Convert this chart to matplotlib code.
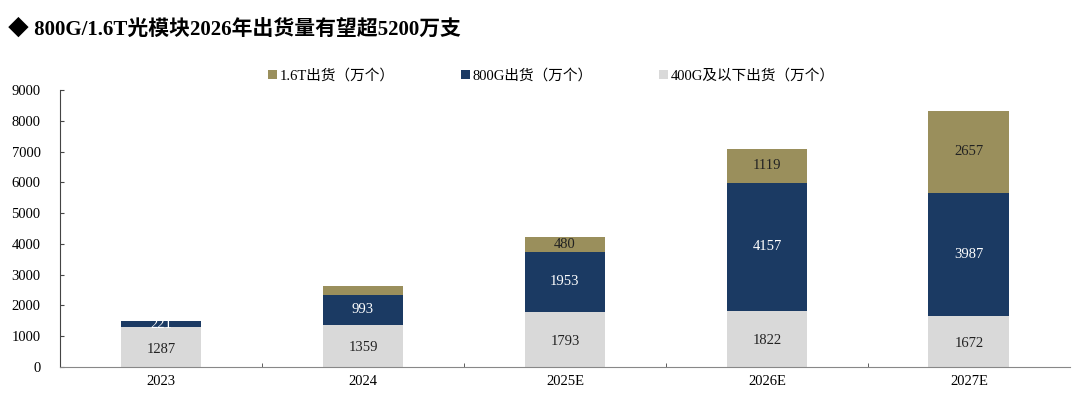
import numpy as np
import matplotlib.pyplot as plt
from matplotlib.ticker import FixedLocator

plt.rcParams['font.family'] = ['Liberation Serif', 'Noto Sans CJK SC']

years = ['2023', '2024', '2025E', '2026E', '2027E']
low = [1287, 1359, 1793, 1822, 1672]
g800 = [221, 993, 1953, 4157, 3987]
t16 = [0, 280, 480, 1119, 2657]
t16_labels = ['', '', '480', '1119', '2657']

c_low = '#d9d9d9'
c_800 = '#1b3a63'
c_16 = '#9a8f5c'

fig = plt.figure(figsize=(10.8, 3.93), dpi=100)
ax = fig.add_axes([0.0556, 0.066, 0.935, 0.705])

x = np.arange(len(years))
w = 0.4
b1 = ax.bar(x, low, w, color=c_low, label='400G及以下出货（万个）')
b2 = ax.bar(x, g800, w, bottom=low, color=c_800, label='800G出货（万个）')
bot3 = [a + b for a, b in zip(low, g800)]
b3 = ax.bar(x, t16, w, bottom=bot3, color=c_16, label='1.6T出货（万个）')

for i in range(len(years)):
    ax.text(x[i], low[i] / 2 - 60, str(low[i]), ha='center', va='center',
            fontsize=10.5, color='#222222')
    ax.text(x[i], low[i] + g800[i] / 2, str(g800[i]), ha='center', va='center',
            fontsize=10.5, color='white')
    if t16_labels[i]:
        ax.text(x[i], bot3[i] + t16[i] / 2, t16_labels[i], ha='center', va='center',
                fontsize=10.5, color='#222222')

ax.set_xlim(-0.5, len(years) - 0.5)
ax.set_ylim(0, 9000)
ax.set_yticks(range(0, 9001, 1000))
ax.set_xticks(x)
ax.set_xticklabels(years)
ax.xaxis.set_minor_locator(FixedLocator(np.arange(0.5, len(years) - 0.5, 1)))
ax.tick_params(axis='x', which='major', length=0, labelsize=10.5, pad=6)
ax.tick_params(axis='x', which='minor', length=3, direction='in', color='#444444')
ax.tick_params(axis='y', length=3, direction='in', labelsize=10.5, pad=14, color='#444444')
for s in ['top', 'right']:
    ax.spines[s].set_visible(False)
ax.spines['left'].set_color('#444444')
ax.spines['bottom'].set_color('#888888')

handles = [b3, b2, b1]
ax.legend(handles, [h.get_label() for h in handles], ncol=3, frameon=False,
          loc='upper left', bbox_to_anchor=(0.193, 1.125), fontsize=10.5,
          handlelength=0.6, handleheight=0.6, handletextpad=0.2, columnspacing=4.55)

fig.text(0.007, 0.925, '◆ 800G/1.6T光模块2026年出货量有望超5200万支',
         fontsize=15, fontweight='bold', ha='left', va='center',
         family=['Liberation Serif', 'Noto Sans CJK SC', 'DejaVu Sans'])

fig.savefig('out.png', dpi=100)
